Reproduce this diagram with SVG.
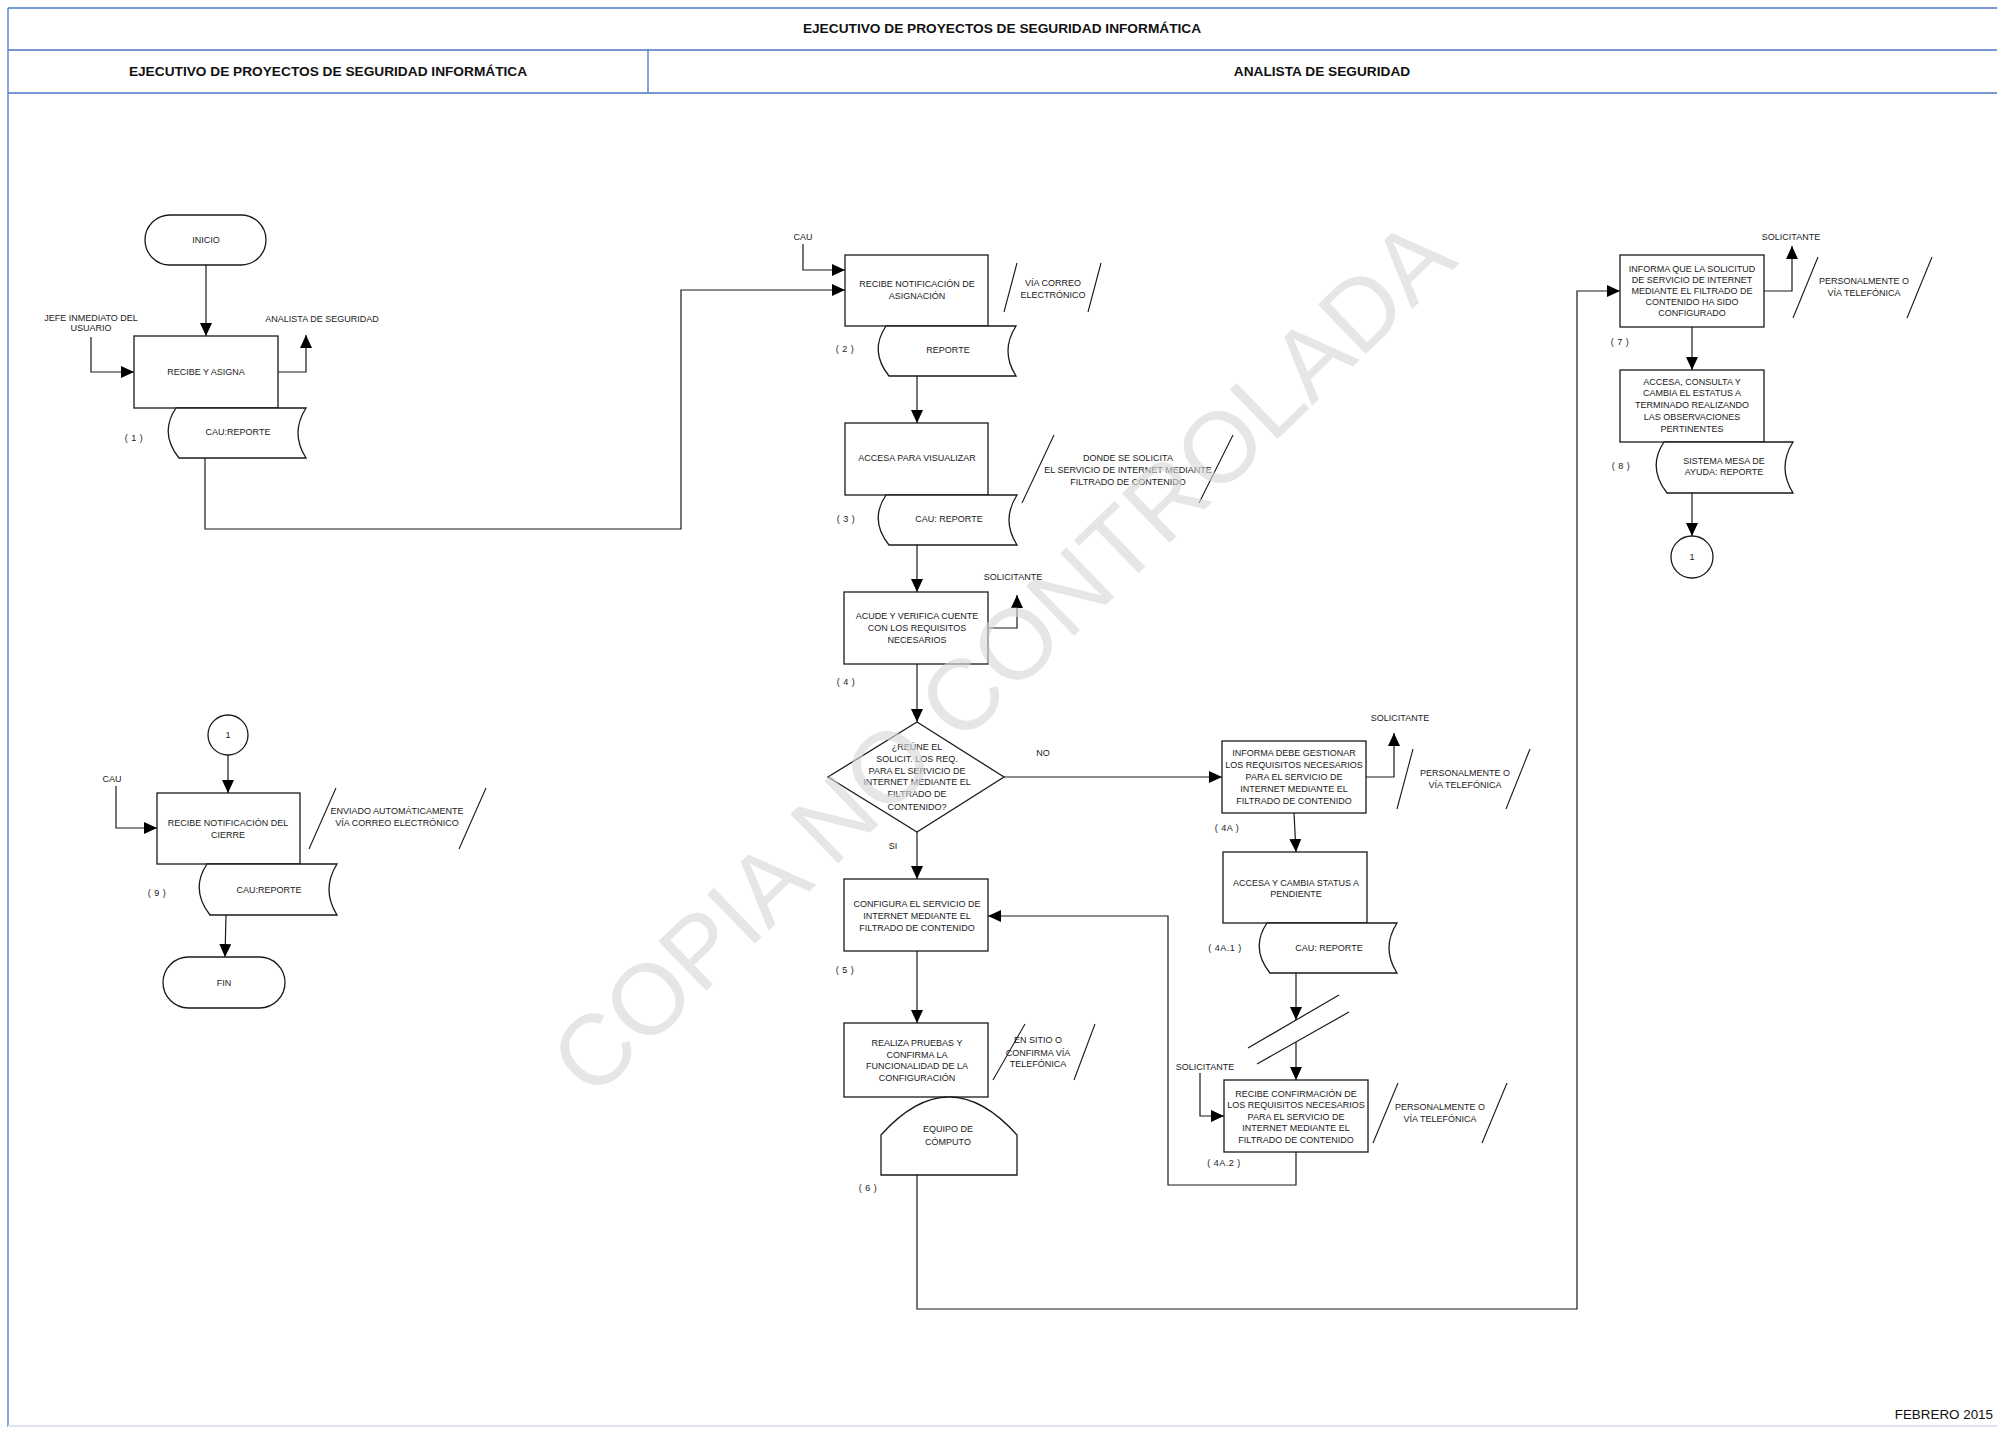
<svg xmlns="http://www.w3.org/2000/svg" width="1997" height="1429" viewBox="0 0 1997 1429">
  <defs>
    <style>
      .frame { stroke: #4a76c6; stroke-width: 1.3; fill: none; }
      .hd { font-family: "Liberation Sans", Arial, sans-serif; font-weight: bold; font-size: 13.7px; fill: #111; text-anchor: middle; }
      .box { fill: #fff; stroke: #1a1a1a; stroke-width: 1.3; }
      .t { font-family: "Liberation Sans", Arial, sans-serif; font-size: 9px; fill: #1a1a1a; text-anchor: middle; }
      .num { font-family: "Liberation Sans", Arial, sans-serif; font-size: 9px; fill: #1a1a1a; text-anchor: middle; letter-spacing: 0.5px; }
      .c { fill: none; stroke: #1a1a1a; stroke-width: 1.2; }
      .sl { fill: none; stroke: #1a1a1a; stroke-width: 1.1; }
      .wm { font-family: "Liberation Sans", Arial, sans-serif; font-size: 100px; fill: #d6d6d6; fill-opacity: 0.62; text-anchor: middle; }
    </style>
    <marker id="ah" markerUnits="userSpaceOnUse" markerWidth="13" markerHeight="12" refX="13" refY="6" orient="auto">
      <path d="M0,0 L13,6 L0,12 Z" fill="#000"/>
    </marker>
  </defs>

  <rect width="1997" height="1429" fill="#fff"/>

  <!-- swimlane frame -->
  <g id="frame">
    <line class="frame" x1="8" y1="8" x2="1997" y2="8"/>
    <line class="frame" x1="8" y1="50" x2="1997" y2="50"/>
    <line class="frame" x1="8" y1="93" x2="1997" y2="93"/>
    <line class="frame" x1="648" y1="50" x2="648" y2="93"/>
    <line class="frame" x1="8" y1="8" x2="8" y2="1427"/>
    <line x1="8" y1="1426" x2="1997" y2="1426" stroke="#dde4ee" stroke-width="2"/>
    <text class="hd" x="1002" y="33">EJECUTIVO DE PROYECTOS DE SEGURIDAD INFORMÁTICA</text>
    <text class="hd" x="328" y="76">EJECUTIVO DE PROYECTOS DE SEGURIDAD INFORMÁTICA</text>
    <text class="hd" x="1322" y="76">ANALISTA DE SEGURIDAD</text>
  </g>

  <!-- connectors -->
  <g id="connectors">
    <path class="c" d="M206,265 V336" marker-end="url(#ah)"/>
    <path class="c" d="M91,337 V372 H134" marker-end="url(#ah)"/>
    <path class="c" d="M278,372 H306 V335" marker-end="url(#ah)"/>
    <path class="c" d="M205,458 V529 H681 V290 H845" marker-end="url(#ah)"/>
    <path class="c" d="M803,244 V270 H845" marker-end="url(#ah)"/>
    <path class="c" d="M917,376 V423" marker-end="url(#ah)"/>
    <path class="c" d="M917,545 V592" marker-end="url(#ah)"/>
    <path class="c" d="M988,628 H1017 V595" marker-end="url(#ah)"/>
    <path class="c" d="M917,664 V722" marker-end="url(#ah)"/>
    <path class="c" d="M1004,777 H1222" marker-end="url(#ah)"/>
    <path class="c" d="M917,832 V879" marker-end="url(#ah)"/>
    <path class="c" d="M917,951 V1023" marker-end="url(#ah)"/>
    <path class="c" d="M917,1175 V1309 H1577 V291 H1620" marker-end="url(#ah)"/>
    <path class="c" d="M1764,291 H1792 V246" marker-end="url(#ah)"/>
    <path class="c" d="M1692,327 V370" marker-end="url(#ah)"/>
    <path class="c" d="M1692,493 V536" marker-end="url(#ah)"/>
    <path class="c" d="M1366,777 H1394 V733" marker-end="url(#ah)"/>
    <path class="c" d="M1294,813 L1296,852" marker-end="url(#ah)"/>
    <path class="c" d="M1296,973 V1020" marker-end="url(#ah)"/>
    <path class="c" d="M1248,1048 L1339,995 M1257,1064 L1349,1012"/>
    <path class="c" d="M1296,1042 V1080" marker-end="url(#ah)"/>
    <path class="c" d="M1200,1073 V1116 H1224" marker-end="url(#ah)"/>
    <path class="c" d="M1296,1152 V1185 H1168 V916 H988" marker-end="url(#ah)"/>
    <path class="c" d="M228,755 V793" marker-end="url(#ah)"/>
    <path class="c" d="M116,786 V828 H157" marker-end="url(#ah)"/>
    <path class="c" d="M226,915 L225,957" marker-end="url(#ah)"/>
  </g>

  <!-- Ejecutivo lane -->
  <g id="n-inicio">
    <rect class="box" x="145" y="215" width="121" height="50" rx="25"/>
    <text class="t" x="206" y="243">INICIO</text>
  </g>
  <g id="n-recibe-asigna">
    <rect class="box" x="134" y="336" width="144" height="72"/>
    <text class="t" x="206" y="375">RECIBE Y ASIGNA</text>
    <text class="t" x="91" y="321">JEFE INMEDIATO DEL</text>
    <text class="t" x="91" y="331">USUARIO</text>
    <text class="t" x="322" y="322">ANALISTA DE SEGURIDAD</text>
  </g>
  <g id="n-doc1">
    <path class="box" d="M176,408 H306 Q290,433 306,458 H179 Q159,433 176,408 Z"/>
    <text class="t" x="238" y="435">CAU:REPORTE</text>
    <text class="num" x="134" y="441">( 1 )</text>
  </g>

  <g id="n-conector-1b">
    <circle class="box" cx="228" cy="735" r="20"/>
    <text class="t" x="228" y="738">1</text>
  </g>
  <g id="n-recibe-cierre">
    <rect class="box" x="157" y="793" width="143" height="71"/>
    <text class="t" x="228" y="826">RECIBE NOTIFICACIÓN DEL</text>
    <text class="t" x="228" y="838">CIERRE</text>
    <text class="t" x="112" y="782">CAU</text>
    <path class="sl" d="M336,788 L309,849 M486,788 L459,849"/>
    <text class="t" x="397" y="814">ENVIADO AUTOMÁTICAMENTE</text>
    <text class="t" x="397" y="826">VÍA CORREO ELECTRÓNICO</text>
  </g>
  <g id="n-doc9">
    <path class="box" d="M207,864 H337 Q321,889.5 337,915 H210 Q190,889.5 207,864 Z"/>
    <text class="t" x="269" y="893">CAU:REPORTE</text>
    <text class="num" x="157" y="896">( 9 )</text>
  </g>
  <g id="n-fin">
    <rect class="box" x="163" y="957" width="122" height="51" rx="25.5"/>
    <text class="t" x="224" y="986">FIN</text>
  </g>

  <!-- Analista lane -->
  <g id="n-recibe-notif">
    <rect class="box" x="845" y="255" width="143" height="71"/>
    <text class="t" x="917" y="287">RECIBE NOTIFICACIÓN DE</text>
    <text class="t" x="917" y="299">ASIGNACIÓN</text>
    <text class="t" x="803" y="240">CAU</text>
    <path class="sl" d="M1017,263 L1004,312 M1101,263 L1088,312"/>
    <text class="t" x="1053" y="286">VÍA CORREO</text>
    <text class="t" x="1053" y="298">ELECTRÓNICO</text>
  </g>
  <g id="n-doc2">
    <path class="box" d="M886,326 H1016 Q1000,351 1016,376 H889 Q869,351 886,326 Z"/>
    <text class="t" x="948" y="353">REPORTE</text>
    <text class="num" x="845" y="352">( 2 )</text>
  </g>
  <g id="n-accesa-visualizar">
    <rect class="box" x="845" y="423" width="143" height="72"/>
    <text class="t" x="917" y="461">ACCESA PARA VISUALIZAR</text>
    <path class="sl" d="M1054,435 L1022,503 M1233,435 L1199,503"/>
    <text class="t" x="1128" y="461">DONDE SE SOLICITA</text>
    <text class="t" x="1128" y="473">EL SERVICIO DE INTERNET MEDIANTE</text>
    <text class="t" x="1128" y="485">FILTRADO DE CONTENIDO</text>
  </g>
  <g id="n-doc3">
    <path class="box" d="M886,495 H1017 Q1001,520 1017,545 H889 Q869,520 886,495 Z"/>
    <text class="t" x="949" y="522">CAU: REPORTE</text>
    <text class="num" x="846" y="522">( 3 )</text>
  </g>
  <g id="n-acude">
    <rect class="box" x="844" y="592" width="144" height="72"/>
    <text class="t" x="917" y="619">ACUDE Y VERIFICA CUENTE</text>
    <text class="t" x="917" y="631">CON LOS REQUISITOS</text>
    <text class="t" x="917" y="643">NECESARIOS</text>
    <text class="t" x="1013" y="580">SOLICITANTE</text>
    <text class="num" x="846" y="685">( 4 )</text>
  </g>
  <g id="n-decision">
    <path class="box" d="M917,722 L1004,777 L917,832 L828,777 Z"/>
    <text class="t" x="917" y="750">¿REÚNE EL</text>
    <text class="t" x="917" y="762">SOLICIT. LOS REQ.</text>
    <text class="t" x="917" y="774">PARA EL SERVICIO DE</text>
    <text class="t" x="917" y="785">INTERNET MEDIANTE EL</text>
    <text class="t" x="917" y="797">FILTRADO DE</text>
    <text class="t" x="917" y="810">CONTENIDO?</text>
    <text class="t" x="1043" y="756">NO</text>
    <text class="t" x="893" y="849">SI</text>
  </g>
  <g id="n-configura">
    <rect class="box" x="844" y="879" width="144" height="72"/>
    <text class="t" x="917" y="907">CONFIGURA EL SERVICIO DE</text>
    <text class="t" x="917" y="919">INTERNET MEDIANTE EL</text>
    <text class="t" x="917" y="931">FILTRADO DE CONTENIDO</text>
    <text class="num" x="845" y="973">( 5 )</text>
  </g>
  <g id="n-realiza">
    <rect class="box" x="844" y="1023" width="144" height="74"/>
    <text class="t" x="917" y="1046">REALIZA PRUEBAS Y</text>
    <text class="t" x="917" y="1058">CONFIRMA LA</text>
    <text class="t" x="917" y="1069">FUNCIONALIDAD DE LA</text>
    <text class="t" x="917" y="1081">CONFIGURACIÓN</text>
    <path class="sl" d="M1025,1024 L993,1080 M1095,1024 L1074,1080"/>
    <text class="t" x="1038" y="1043">EN SITIO O</text>
    <text class="t" x="1038" y="1056">CONFIRMA VÍA</text>
    <text class="t" x="1038" y="1067">TELEFÓNICA</text>
  </g>
  <g id="n-equipo">
    <path class="box" d="M881,1175 V1135 Q949,1059 1017,1135 V1175 Z"/>
    <text class="t" x="948" y="1132">EQUIPO DE</text>
    <text class="t" x="948" y="1145">CÓMPUTO</text>
    <text class="num" x="868" y="1191">( 6 )</text>
  </g>

  <g id="n-informa-gestionar">
    <rect class="box" x="1222" y="741" width="144" height="72"/>
    <text class="t" x="1294" y="756">INFORMA DEBE GESTIONAR</text>
    <text class="t" x="1294" y="768">LOS REQUISITOS NECESARIOS</text>
    <text class="t" x="1294" y="780">PARA EL SERVICIO DE</text>
    <text class="t" x="1294" y="792">INTERNET MEDIANTE EL</text>
    <text class="t" x="1294" y="804">FILTRADO DE CONTENIDO</text>
    <text class="t" x="1400" y="721">SOLICITANTE</text>
    <path class="sl" d="M1413,749 L1397,809 M1530,749 L1506,809"/>
    <text class="t" x="1465" y="776">PERSONALMENTE O</text>
    <text class="t" x="1465" y="788">VÍA TELEFÓNICA</text>
    <text class="num" x="1227" y="831">( 4A )</text>
  </g>
  <g id="n-accesa-pendiente">
    <rect class="box" x="1223" y="852" width="144" height="71"/>
    <text class="t" x="1296" y="886">ACCESA Y CAMBIA STATUS A</text>
    <text class="t" x="1296" y="897">PENDIENTE</text>
  </g>
  <g id="n-doc4a1">
    <path class="box" d="M1267,923 H1397 Q1381,948 1397,973 H1270 Q1250,948 1267,923 Z"/>
    <text class="t" x="1329" y="951">CAU: REPORTE</text>
    <text class="num" x="1225" y="951">( 4A.1 )</text>
  </g>
  <g id="n-recibe-confirmacion">
    <rect class="box" x="1224" y="1080" width="144" height="72"/>
    <text class="t" x="1296" y="1097">RECIBE CONFIRMACIÓN DE</text>
    <text class="t" x="1296" y="1108">LOS REQUISITOS NECESARIOS</text>
    <text class="t" x="1296" y="1120">PARA EL SERVICIO DE</text>
    <text class="t" x="1296" y="1131">INTERNET MEDIANTE EL</text>
    <text class="t" x="1296" y="1143">FILTRADO DE CONTENIDO</text>
    <text class="t" x="1205" y="1070">SOLICITANTE</text>
    <path class="sl" d="M1398,1083 L1373,1143 M1507,1083 L1482,1143"/>
    <text class="t" x="1440" y="1110">PERSONALMENTE O</text>
    <text class="t" x="1440" y="1122">VÍA TELEFÓNICA</text>
    <text class="num" x="1224" y="1166">( 4A.2 )</text>
  </g>

  <g id="n-informa-configurado">
    <rect class="box" x="1620" y="255" width="144" height="72"/>
    <text class="t" x="1692" y="272">INFORMA QUE LA SOLICITUD</text>
    <text class="t" x="1692" y="283">DE SERVICIO DE INTERNET</text>
    <text class="t" x="1692" y="294">MEDIANTE EL FILTRADO DE</text>
    <text class="t" x="1692" y="305">CONTENIDO HA SIDO</text>
    <text class="t" x="1692" y="316">CONFIGURADO</text>
    <text class="t" x="1791" y="240">SOLICITANTE</text>
    <path class="sl" d="M1818,257 L1793,318 M1932,257 L1907,318"/>
    <text class="t" x="1864" y="284">PERSONALMENTE O</text>
    <text class="t" x="1864" y="296">VÍA TELEFÓNICA</text>
    <text class="num" x="1620" y="345">( 7 )</text>
  </g>
  <g id="n-accesa-terminado">
    <rect class="box" x="1620" y="370" width="144" height="72"/>
    <text class="t" x="1692" y="385">ACCESA, CONSULTA Y</text>
    <text class="t" x="1692" y="396">CAMBIA EL ESTATUS A</text>
    <text class="t" x="1692" y="408">TERMINADO REALIZANDO</text>
    <text class="t" x="1692" y="420">LAS OBSERVACIONES</text>
    <text class="t" x="1692" y="432">PERTINENTES</text>
  </g>
  <g id="n-doc8">
    <path class="box" d="M1664,442 H1793 Q1777,467.5 1793,493 H1667 Q1647,467.5 1664,442 Z"/>
    <text class="t" x="1724" y="464">SISTEMA MESA DE</text>
    <text class="t" x="1724" y="475">AYUDA: REPORTE</text>
    <text class="num" x="1621" y="469">( 8 )</text>
  </g>
  <g id="n-conector-1a">
    <circle class="box" cx="1692" cy="557" r="21"/>
    <text class="t" x="1692" y="560">1</text>
  </g>

  <text x="1993" y="1419" font-family="Liberation Sans, Arial, sans-serif" font-size="13.4" fill="#111" text-anchor="end">FEBRERO 2015</text>

  <!-- watermark -->
  <text class="wm" transform="translate(1026,682) rotate(-44)">COPIA NO CONTROLADA</text>
</svg>
